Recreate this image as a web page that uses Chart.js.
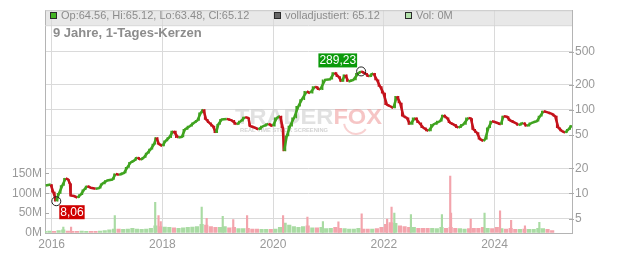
<!DOCTYPE html>
<html>
<head>
<meta charset="utf-8">
<script src="https://cdn.jsdelivr.net/npm/chart.js@4.4.1/dist/chart.umd.min.js"></script>
<style>
html, body { margin: 0; padding: 0; background: #fff; }
#wrap { width: 632px; height: 253px; }
</style>
</head>
<body>
<div id="wrap"><canvas id="chart" width="632" height="253"></canvas></div>
<script>
// price path (decimal year, close)
const priceDates = [
    2015.892, 2015.982, 2016.029, 2016.083, 2016.132, 2016.192, 2016.253, 2016.295, 2016.331, 2016.343,
    2016.403, 2016.463, 2016.524, 2016.584, 2016.643, 2016.705, 2016.795, 2016.855, 2016.915, 2017.005,
    2017.095, 2017.157, 2017.216, 2017.307, 2017.366, 2017.428, 2017.487, 2017.547, 2017.609, 2017.668,
    2017.728, 2017.789, 2017.849, 2017.890, 2017.939, 2017.999, 2018.060, 2018.120, 2018.198, 2018.288,
    2018.350, 2018.409, 2018.500, 2018.572, 2018.632, 2018.693, 2018.740, 2018.789, 2018.848, 2018.910,
    2018.969, 2019.011, 2019.072, 2019.163, 2019.253, 2019.344, 2019.416, 2019.494, 2019.553, 2019.584,
    2019.674, 2019.734, 2019.824, 2019.915, 2019.994, 2020.067, 2020.126, 2020.175, 2020.198, 2020.247,
    2020.307, 2020.379, 2020.457, 2020.518, 2020.609, 2020.668, 2020.759, 2020.849, 2020.939, 2021.030,
    2021.108, 2021.180, 2021.241, 2021.301, 2021.361, 2021.451, 2021.541, 2021.590, 2021.662, 2021.735,
    2021.812, 2021.874, 2021.933, 2021.993, 2022.055, 2022.114, 2022.174, 2022.235, 2022.295, 2022.355,
    2022.416, 2022.476, 2022.566, 2022.638, 2022.716, 2022.806, 2022.897, 2023.018, 2023.078, 2023.139,
    2023.199, 2023.258, 2023.349, 2023.439, 2023.529, 2023.573, 2023.620, 2023.681, 2023.741, 2023.801,
    2023.831, 2023.891, 2023.952, 2024.043, 2024.115, 2024.162, 2024.223, 2024.283, 2024.373, 2024.433,
    2024.523, 2024.585, 2024.675, 2024.765, 2024.825, 2024.885, 2024.946, 2025.036, 2025.095, 2025.155,
    2025.217, 2025.276, 2025.336, 2025.398
];
const priceValues = [
    12.44, 12.79, 10.36, 8.06, 10.0, 12.44, 15.19, 14.66, 13.14, 9.47,
    9.29, 8.89, 9.65, 11.06, 12.21, 11.69, 11.37, 11.56, 13.03, 14.27,
    14.66, 17.13, 16.67, 17.60, 20.51, 23.51, 24.63, 26.96, 25.31, 27.0,
    30.40, 33.90, 38.87, 46.55, 38.87, 37.10, 42.54, 46.55, 55.88, 46.55,
    47.45, 58.53, 64.09, 70.12, 74.86, 92.14, 101.1, 76.93, 70.12, 64.09,
    53.35, 67.10, 76.93, 78.0, 74.86, 67.10, 73.45, 81.91, 80.0, 64.09,
    61.17, 58.53, 64.09, 68.21, 64.09, 80.36, 84.20, 61.17, 32.37, 48.75,
    64.09, 80.36, 110.6, 132.9, 166.7, 159.1, 191.0, 174.6, 229.4, 233.2,
    280.1, 251.0, 219.0, 263.0, 219.0, 229.4, 274.8, 289.23, 274.8, 251.0,
    274.8, 229.4, 191.0, 159.1, 115.9, 110.6, 105.6, 145.4, 121.1, 84.20,
    80.36, 67.10, 80.36, 70.12, 61.17, 55.88, 67.10, 73.45, 86.51, 80.36,
    70.12, 67.10, 61.17, 67.10, 80.36, 79.0, 58.53, 53.35, 44.56, 42.54,
    44.56, 61.17, 73.45, 70.12, 67.10, 84.20, 83.0, 74.86, 70.12, 65.85,
    70.12, 64.09, 70.12, 73.45, 84.20, 96.52, 94.0, 89.66, 84.20, 61.17,
    55.88, 53.35, 58.53, 65.12
];

// volume in millions: monthly base level from Nov 2015, plus single spikes
const volStart = 2015 + 10 / 12;
const volMonthly = [
    4, 5,
    4, 6, 8, 5, 4, 4, 5, 4, 4, 4, 5, 6,
    8, 10, 10, 9, 10, 12, 10, 9, 10, 12, 18, 16,
    15, 14, 13, 12, 13, 14, 15, 16, 22, 20, 16, 14,
    14, 16, 13, 14, 11, 11, 12, 10, 10, 9, 9, 9,
    10, 14, 25, 20, 16, 14, 16, 18, 13, 13, 14, 11,
    12, 14, 12, 11, 10, 10, 12, 10, 10, 10, 11, 14,
    22, 26, 24, 18, 16, 14, 14, 12, 12, 12, 12, 11,
    14, 12, 14, 12, 11, 10, 11, 12, 12, 14, 12, 11,
    14, 11, 10, 12, 9, 9, 10, 9, 9, 12, 11, 9,
    6
];
const volSpikeDates = [
    2016.21, 2016.35, 2017.14, 2017.87, 2017.93, 2017.97, 2018.71, 2018.80, 2019.09, 2019.28,
    2019.53, 2020.18, 2020.62, 2020.90, 2021.18, 2021.60, 2022.06, 2022.14, 2022.19, 2022.49,
    2023.05, 2023.20, 2023.215, 2023.57, 2023.82, 2024.10, 2024.30, 2024.55, 2024.81
];
const volSpikes = [
    15, 15, 44, 77, 44, 29, 65, 37, 42, 34,
    44, 44, 40, 29, 28, 48, 35, 65, 50, 46,
    46, 143, 50, 35, 50, 56, 32, 18, 27
];

const xTicks = [2016, 2018, 2020, 2022, 2024];
const priceTicks = [5, 10, 20, 50, 100, 200, 500];
const volTicks = [0, 50, 100, 150];

const GREEN = '#3fa31f';
const RED = '#c4121b';
const VOL_GREEN = '#a9dba3';
const VOL_RED = '#f3a4ac';
const GRID = '#dadada';
const AXIS = '#b4b4b4';
const FONT = '"Liberation Sans", Arial, sans-serif';

function rising(t) {
    for (let i = 1; i < priceDates.length; i++) {
        if (priceDates[i] >= t) return priceValues[i] >= priceValues[i - 1];
    }
    return true;
}

const pricePoints = priceDates.map((d, i) => ({ x: d, y: priceValues[i] }));
// one thin candle body per move, placed half way between two readings
const candles = priceDates.slice(1).map((d, i) => ({
    x: (d + priceDates[i]) / 2,
    y: [priceValues[i], priceValues[i + 1]]
}));
const candleColors = candles.map(c => c.y[1] >= c.y[0] ? GREEN : RED);

const volBase = volMonthly.map((v, i) => ({ x: volStart + (i + 0.5) / 12, y: v * 1e6 }));
const volPeak = volSpikeDates.map((d, i) => ({ x: d, y: volSpikes[i] * 1e6 }));
const colorOf = p => rising(p.x) ? VOL_GREEN : VOL_RED;

const decor = {
    id: 'decor',
    beforeDraw(chart) {
        const { ctx, chartArea: a } = chart;
        ctx.save();
        ctx.fillStyle = '#fff';
        ctx.fillRect(0, 0, chart.width, chart.height);
        ctx.fillStyle = '#e8e8e8';
        ctx.fillRect(a.left, a.top, a.right - a.left, 15);
        ctx.restore();
    },
    beforeDatasetsDraw(chart) {
        // faint watermark
        const ctx = chart.ctx;
        ctx.save();
        ctx.font = 'bold 22px ' + FONT;
        const w1 = ctx.measureText('TRADER').width;
        const w2 = ctx.measureText('FOX').width;
        const sx = 147 / (w1 + w2);
        ctx.translate(235, 124);
        ctx.scale(sx, 1);
        ctx.fillStyle = 'rgba(205,205,205,0.6)';
        ctx.fillText('TRADER', 0, 0);
        ctx.fillStyle = 'rgba(238,140,140,0.5)';
        ctx.fillText('FOX', w1, 0);
        ctx.restore();
        ctx.save();
        ctx.font = 'bold 6px ' + FONT;
        ctx.fillStyle = 'rgba(200,200,200,0.8)';
        ctx.textBaseline = 'middle';
        ctx.fillText('REAL TIME STOCK SCREENING', 240, 130, 88);
        ctx.strokeStyle = 'rgba(238,140,140,0.4)';
        ctx.lineWidth = 2;
        ctx.beginPath();
        ctx.arc(356, 122, 12, 0.2 * Math.PI, 0.95 * Math.PI);
        ctx.stroke();
        ctx.restore();
    },
    afterDraw(chart) {
        const { ctx, chartArea: a, scales } = chart;
        ctx.save();
        // frame lines
        ctx.strokeStyle = '#c8c8c8';
        ctx.lineWidth = 1;
        ctx.beginPath();
        ctx.moveTo(a.left, a.top + 0.5); ctx.lineTo(a.right, a.top + 0.5);
        ctx.stroke();
        ctx.strokeStyle = '#d4d4d4';
        ctx.beginPath();
        ctx.moveTo(a.left, a.top + 15.5); ctx.lineTo(a.right, a.top + 15.5);
        ctx.stroke();

        // small tick dashes
        ctx.strokeStyle = '#aaa';
        volTicks.slice(1).forEach(v => {
            const y = Math.round(scales.yv.getPixelForValue(v * 1e6)) + 0.5;
            ctx.beginPath(); ctx.moveTo(a.left, y); ctx.lineTo(a.left + 4, y); ctx.stroke();
        });
        priceTicks.forEach(v => {
            const y = Math.round(scales.y.getPixelForValue(v)) + 0.5;
            ctx.beginPath(); ctx.moveTo(a.right - 3, y); ctx.lineTo(a.right + 2, y); ctx.stroke();
        });

        // header legend
        ctx.textBaseline = 'middle';
        ctx.font = '11px ' + FONT;
        const items = [
            { x: 50, fill: '#43b323', text: 'Op:64.56, Hi:65.12, Lo:63.48, Cl:65.12' },
            { x: 274, fill: '#666', text: 'volladjustiert: 65.12' },
            { x: 405, fill: '#b3e2ab', text: 'Vol: 0M' }
        ];
        items.forEach(it => {
            ctx.fillStyle = it.fill;
            ctx.fillRect(it.x + 0.5, 12.5, 6, 6);
            ctx.strokeStyle = '#2a2a2a';
            ctx.strokeRect(it.x + 0.5, 12.5, 6, 6);
            ctx.fillStyle = '#8c8c8c';
            ctx.fillText(it.text, it.x + 11, 16);
        });
        ctx.font = 'bold 13px ' + FONT;
        ctx.fillStyle = '#8c8c8c';
        ctx.fillText('9 Jahre, 1-Tages-Kerzen', 53, 33);

        // high / low markers
        let hi = 0, lo = 0;
        priceValues.forEach((v, i) => {
            if (v > priceValues[hi]) hi = i;
            if (v < priceValues[lo]) lo = i;
        });
        ctx.font = '12px ' + FONT;
        const mark = (i, color, dx, dy, right) => {
            const px = scales.x.getPixelForValue(priceDates[i]);
            const py = scales.y.getPixelForValue(priceValues[i]);
            ctx.strokeStyle = '#222';
            ctx.lineWidth = 1;
            ctx.beginPath(); ctx.arc(px, py, 4.5, 0, Math.PI * 2); ctx.stroke();
            const label = priceValues[i].toFixed(2).replace('.', ',');
            const w = ctx.measureText(label).width + 2;
            const bx = right ? px + dx - w : px + dx;
            const by = py + dy;
            ctx.fillStyle = color;
            ctx.fillRect(bx, by, w, 14);
            ctx.fillStyle = '#fff';
            ctx.fillText(label, bx + 1, by + 7.5);
        };
        mark(hi, '#0b9a0b', -4, -18, true);
        mark(lo, '#d00000', 3, 4, false);
        ctx.restore();
    }
};

new Chart(document.getElementById('chart'), {
    type: 'bar',
    data: {
        datasets: [
            {
                type: 'line',
                data: pricePoints,
                yAxisID: 'y',
                borderWidth: 2.5,
                pointRadius: 0,
                tension: 0,
                segment: { borderColor: c => c.p1.parsed.y >= c.p0.parsed.y ? GREEN : RED },
                order: 1
            },
            {
                data: candles,
                yAxisID: 'y',
                backgroundColor: candleColors,
                barThickness: 1,
                grouped: false,
                order: 2
            },
            {
                data: volPeak,
                yAxisID: 'yv',
                backgroundColor: volPeak.map(colorOf),
                barThickness: 1.5,
                grouped: false,
                order: 3
            },
            {
                data: volBase,
                yAxisID: 'yv',
                backgroundColor: volBase.map(colorOf),
                barThickness: 3.5,
                grouped: false,
                order: 4
            }
        ]
    },
    options: {
        responsive: false,
        animation: false,
        devicePixelRatio: 1,
        layout: { padding: { top: 8, left: 0, right: 0, bottom: 0 } },
        plugins: { legend: { display: false }, tooltip: { enabled: false } },
        scales: {
            x: {
                type: 'linear',
                min: 2015.879,
                max: 2025.40,
                offset: false,
                afterBuildTicks: s => { s.ticks = xTicks.map(v => ({ value: v })); },
                afterFit: s => { s.height = 20; },
                ticks: { color: '#999', font: { family: FONT, size: 12 }, padding: 4, callback: v => String(v), maxRotation: 0 },
                grid: { color: GRID, drawTicks: false, offset: false },
                border: { color: AXIS }
            },
            y: {
                type: 'logarithmic',
                position: 'right',
                min: 3.354,
                max: 1565,
                afterBuildTicks: s => { s.ticks = priceTicks.map(v => ({ value: v })); },
                afterFit: s => { s.width = 60; },
                ticks: { color: '#999', font: { family: FONT, size: 12 }, padding: 3, callback: v => String(v) },
                grid: { color: GRID, drawTicks: false },
                border: { color: AXIS }
            },
            yv: {
                type: 'linear',
                position: 'left',
                min: 0,
                max: 560e6,
                afterBuildTicks: s => { s.ticks = volTicks.map(v => ({ value: v * 1e6 })); },
                afterFit: s => { s.width = 45; },
                ticks: { color: '#999', font: { family: FONT, size: 12 }, padding: 3, callback: v => (v / 1e6) + 'M' },
                grid: { drawOnChartArea: false, drawTicks: false },
                border: { color: AXIS }
            }
        }
    },
    plugins: [decor]
});
</script>
</body>
</html>
